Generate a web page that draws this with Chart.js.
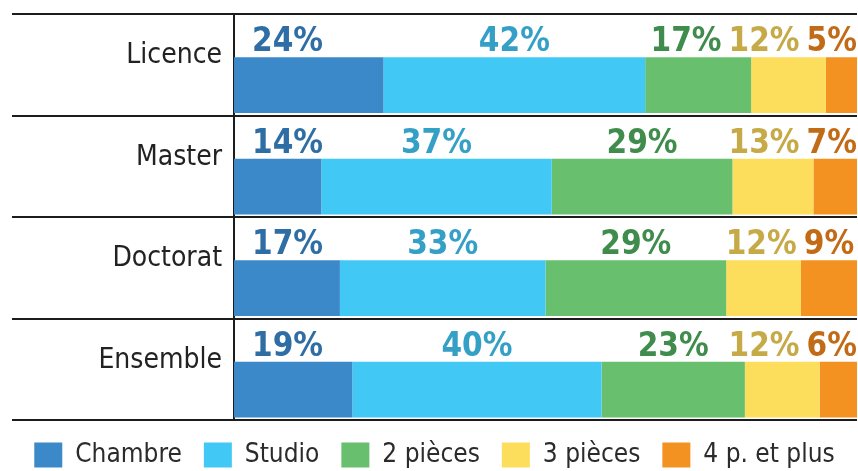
<!DOCTYPE html>
<html>
<head>
<meta charset="utf-8">
<script src="https://cdn.jsdelivr.net/npm/chart.js@4.4.1/dist/chart.umd.min.js"></script>
<style>
  html, body { margin: 0; padding: 0; background: #fff; }
  #chart { display: block; }
</style>
</head>
<body>
<canvas id="chart" width="858" height="471"></canvas>
<script>
const categories = ['Licence', 'Master', 'Doctorat', 'Ensemble'];
const seriesNames = ['Chambre', 'Studio', '2 pièces', '3 pièces', '4 p. et plus'];
const chambre = [24, 14, 17, 19];
const studio = [42, 37, 33, 40];
const deuxPieces = [17, 29, 29, 23];
const troisPieces = [12, 13, 12, 12];
const quatrePlus = [5, 7, 9, 6];

const barColors = ['#3b89c9', '#42c8f4', '#68bf6e', '#fddd5c', '#f39221'];
const labelColors = ['#2f6ea5', '#35a0c6', '#3f8c4c', '#c6aa48', '#c26b17'];

const CONDENSED = "'DejaVu Sans Condensed', 'DejaVu Sans', sans-serif";
// bars sit in the lower part of each band, percentages go on top
const BAR_POS = 0.7;

const values = [chambre, studio, deuxPieces, troisPieces, quatrePlus];

const datasets = values.map((vals, s) => ({
  label: seriesNames[s],
  data: vals.map((v, i) => ({ x: v, y: i + BAR_POS })),
  backgroundColor: barColors[s],
  borderWidth: 0,
  barPercentage: 0.55,
  categoryPercentage: 1
}));

// percentage labels above each segment
const valueLabels = {
  id: 'valueLabels',
  afterDatasetsDraw(chart) {
    const ctx = chart.ctx;
    const area = chart.chartArea;
    ctx.save();
    ctx.font = 'bold 33px ' + CONDENSED;
    ctx.textBaseline = 'alphabetic';
    ctx.textAlign = 'left';
    categories.forEach((cat, i) => {
      const items = values.map((vals, s) => {
        const bar = chart.getDatasetMeta(s).data[i];
        const text = vals[i] + '%';
        const w = ctx.measureText(text).width;
        const mid = (bar.base + bar.x) / 2;
        return { s, text, w, x: mid - w / 2, top: bar.y - bar.height / 2 };
      });
      items[0].x = area.left + 18;
      // push labels leftwards from the right edge so they don't collide
      let limit = area.right;
      for (let k = items.length - 1; k >= 1; k--) {
        items[k].x = Math.min(items[k].x, limit - items[k].w);
        limit = items[k].x - 7;
      }
      items.forEach(it => {
        ctx.fillStyle = labelColors[it.s];
        ctx.fillText(it.text, it.x, it.top - 6);
      });
    });
    ctx.restore();
  }
};

// keep the legend strip short
const legendHeight = {
  id: 'legendHeight',
  beforeInit(chart) {
    const fit = chart.legend.fit;
    chart.legend.fit = function () {
      fit.call(this);
      this.height = 51;
    };
  }
};

new Chart(document.getElementById('chart'), {
  type: 'bar',
  data: { datasets },
  plugins: [valueLabels, legendHeight],
  options: {
    indexAxis: 'y',
    responsive: false,
    animation: false,
    devicePixelRatio: 1,
    layout: { padding: { top: 14, left: 12, right: 1, bottom: 0 } },
    scales: {
      x: {
        stacked: true,
        min: 0,
        max: 100,
        display: false
      },
      y: {
        type: 'linear',
        stacked: true,
        offset: false,
        min: 0,
        max: 4,
        reverse: true,
        afterBuildTicks(scale) {
          scale.ticks = categories.map((c, i) => ({ value: i + 0.5 }));
        },
        afterFit(scale) {
          scale.width = 222;
        },
        grid: {
          offset: true,
          color: '#1c1c1c',
          lineWidth: 2,
          drawTicks: true,
          tickLength: 222
        },
        border: { display: true, color: '#1c1c1c', width: 2 },
        ticks: {
          autoSkip: false,
          padding: -210,
          labelOffset: -9,
          color: '#222',
          font: { family: CONDENSED, size: 28 },
          callback: v => categories[Math.floor(v)]
        }
      }
    },
    plugins: {
      tooltip: { enabled: false },
      legend: {
        position: 'bottom',
        labels: {
          boxWidth: 28,
          boxHeight: 25,
          padding: 22,
          color: '#2b2b2b',
          font: { family: CONDENSED, size: 26, lineHeight: 1 }
        }
      }
    }
  }
});
</script>
</body>
</html>
